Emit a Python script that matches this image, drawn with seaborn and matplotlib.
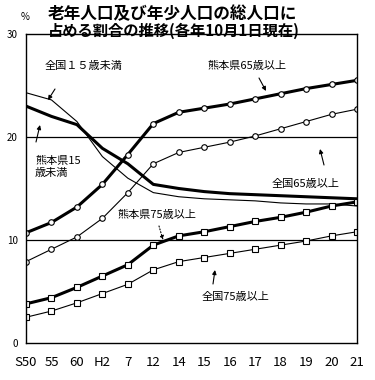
import numpy as np
import pandas as pd
import matplotlib
matplotlib.use("Agg")
import matplotlib.pyplot as plt
import seaborn as sns

# 年次ラベル
years = ["S50", "55", "60", "H2", "7", "12", "14", "15", "16", "17", "18", "19", "20", "21"]

# 割合 (%)
kuma_65 = [10.7, 11.7, 13.2, 15.4, 18.3, 21.3, 22.4, 22.8, 23.2, 23.7, 24.2, 24.7, 25.1, 25.5]
zenkoku_65 = [7.9, 9.1, 10.3, 12.1, 14.6, 17.4, 18.5, 19.0, 19.5, 20.1, 20.8, 21.5, 22.2, 22.7]
kuma_75 = [3.8, 4.4, 5.4, 6.5, 7.6, 9.5, 10.4, 10.8, 11.3, 11.8, 12.2, 12.7, 13.3, 13.7]
zenkoku_75 = [2.5, 3.1, 3.9, 4.8, 5.7, 7.1, 7.9, 8.3, 8.7, 9.1, 9.5, 9.9, 10.4, 10.8]
kuma_15 = [23.0, 22.0, 21.2, 18.9, 17.4, 15.4, 15.0, 14.7, 14.5, 14.4, 14.3, 14.2, 14.1, 14.0]
zenkoku_15 = [24.3, 23.6, 21.5, 18.1, 16.0, 14.6, 14.2, 14.0, 13.9, 13.8, 13.6, 13.5, 13.5, 13.3]

sns.set_theme(style="white")
plt.rcParams["font.family"] = ["Noto Sans CJK JP", "DejaVu Sans"]
plt.rcParams["text.color"] = "black"
plt.rcParams["xtick.color"] = "black"
plt.rcParams["ytick.color"] = "black"

W, H = 375, 380
fig = plt.figure(figsize=(W / 100, H / 100), dpi=100)
L, R, T, B = 26, 357, 34, 343
ax = fig.add_axes([L / W, 1 - B / H, (R - L) / W, (B - T) / H])

pos = np.arange(len(years))
df = pd.DataFrame({"pos": pos, "k65": kuma_65, "z65": zenkoku_65, "k75": kuma_75,
                   "z75": zenkoku_75, "k15": kuma_15, "z15": zenkoku_15})

# 年少人口 (マーカーなし)
sns.lineplot(data=df, x="pos", y="z15", ax=ax, color="black", lw=0.8)
sns.lineplot(data=df, x="pos", y="k15", ax=ax, color="black", lw=2.2)
# 老年人口
sns.lineplot(data=df, x="pos", y="z65", ax=ax, color="black", lw=0.8, marker="o",
             markersize=4, markerfacecolor="white", markeredgecolor="black", markeredgewidth=0.8)
sns.lineplot(data=df, x="pos", y="k65", ax=ax, color="black", lw=2.2, marker="o",
             markersize=4, markerfacecolor="white", markeredgecolor="black", markeredgewidth=0.8)
sns.lineplot(data=df, x="pos", y="z75", ax=ax, color="black", lw=0.8, marker="s",
             markersize=5, markerfacecolor="white", markeredgecolor="black", markeredgewidth=0.8)
sns.lineplot(data=df, x="pos", y="k75", ax=ax, color="black", lw=2.2, marker="s",
             markersize=5, markerfacecolor="white", markeredgecolor="black", markeredgewidth=0.8)

ax.set_xlim(0, len(years) - 1)
ax.set_ylim(0, 30)
ax.set_xticks(pos)
ax.set_xticklabels(years, fontsize=9.5)
ax.set_yticks([0, 10, 20, 30])
ax.set_yticklabels(["0", "10", "20", "30"], fontsize=7)
ax.tick_params(axis="x", direction="in", length=3, width=0.8, color="black", pad=9)
ax.tick_params(axis="y", length=0, pad=6)
ax.set_xlabel("")
ax.set_ylabel("")
for s in ax.spines.values():
    s.set_color("black")
    s.set_linewidth(1)
for v in [10, 20]:
    ax.axhline(v, color="black", lw=0.9, zorder=1)


def px(x, y):
    # ピクセル位置 -> データ座標
    return ((x - L) / (R - L) * (len(years) - 1), (B - y) / (B - T) * 30)


def note(text, txy, start, end, dotted=False):
    ax.text(*px(*txy), text, fontsize=8, va="center", ha="left", color="black")
    ax.annotate("", xy=px(*end), xytext=px(*start),
                arrowprops=dict(arrowstyle="-|>", lw=0.8, color="black",
                                mutation_scale=6, shrinkA=0, shrinkB=0,
                                linestyle=":" if dotted else "-"))


note("全国１５歳未満", (45, 66), (55, 89), (48, 100))
note("熊本県15\n歳未満", (35, 167), (36, 142), (40, 125))
note("熊本県65歳以上", (207, 66), (259, 78), (266, 91))
note("全国65歳以上", (272, 184), (324, 165), (320, 149))
note("熊本県75歳以上", (117, 215), (159, 226), (163, 240), dotted=True)
note("全国75歳以上", (202, 297), (213, 284), (215, 270))

fig.text(48 / W, 1 - 14 / H, "老年人口及び年少人口の総人口に", fontsize=12,
         fontweight="bold", ha="left", va="center", color="black")
fig.text(48 / W, 1 - 31 / H, "占める割合の推移(各年10月1日現在)", fontsize=11,
         fontweight="bold", ha="left", va="center", color="black")
fig.text(25 / W, 1 - 17 / H, "%", fontsize=7, ha="center", va="center", color="black")

fig.savefig("out.png", dpi=100)
